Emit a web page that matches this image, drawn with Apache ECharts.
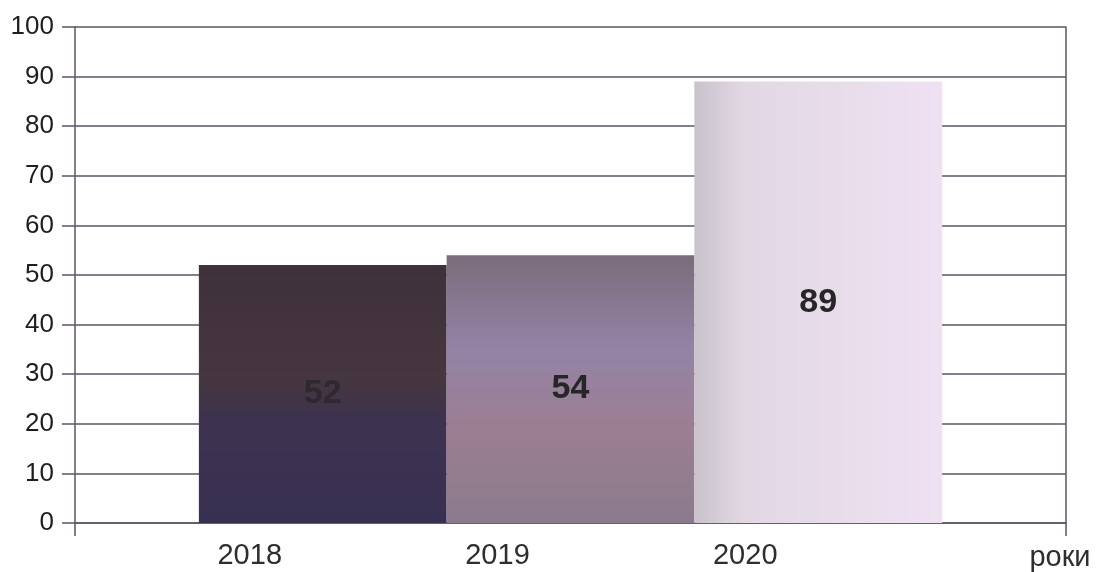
<!DOCTYPE html>
<html>
<head>
<meta charset="utf-8">
<script src="https://cdn.jsdelivr.net/npm/echarts@6/dist/echarts.min.js"></script>
<style>
  html, body { margin: 0; padding: 0; background: #ffffff; }
  #chart { width: 1097px; height: 572px; }
</style>
</head>
<body>
<div id="chart"></div>
<script>
// ---- data ----
const years = ['2018', '2019', '2020'];
const values = [52, 54, 89];
const yTicks = [0, 10, 20, 30, 40, 50, 60, 70, 80, 90, 100];
const axisName = 'роки';

// ---- styles (kept separate from data) ----
const barFills = [
  { type: 'linear', x: 0, y: 0, x2: 0, y2: 1, colorStops: [
    { offset: 0, color: '#3f3139' }, { offset: 0.45, color: '#45363f' },
    { offset: 0.6, color: '#3d3350' }, { offset: 1, color: '#383052' } ] },
  { type: 'linear', x: 0, y: 0, x2: 0, y2: 1, colorStops: [
    { offset: 0, color: '#7a6c7a' }, { offset: 0.35, color: '#9483a6' },
    { offset: 0.65, color: '#9c7e92' }, { offset: 1, color: '#8a7b8c' } ] },
  { type: 'linear', x: 0, y: 0, x2: 1, y2: 0, colorStops: [
    { offset: 0, color: '#c8c2cb' }, { offset: 0.2, color: '#e2d8e4' },
    { offset: 1, color: '#efe1f2' } ] }
];
const labelColors = ['#2e2830', '#262626', '#262626'];

const categories = [''].concat(years).concat(['']);
const barData = [null].concat(values.map((v, i) => ({
  value: v, itemStyle: { color: barFills[i] }, label: { color: labelColors[i] }
}))).concat([null]);

const chart = echarts.init(document.getElementById('chart'));
const lineColor = '#5e5464';
const font = 'Liberation Sans, Arial, sans-serif';

chart.setOption({
  animation: false,
  backgroundColor: '#ffffff',
  grid: { left: 75, right: 31, top: 27, bottom: 49, containLabel: false },
  xAxis: {
    type: 'category',
    data: categories,
    boundaryGap: false,
    name: axisName,
    nameLocation: 'end',
    nameGap: -6,
    nameTextStyle: {
      fontFamily: font, fontSize: 29, color: '#2e2e2e',
      align: 'center', verticalAlign: 'top', padding: [20, 0, 0, 0]
    },
    axisLine: { show: true, lineStyle: { color: lineColor, width: 1.5 } },
    axisTick: {
      show: true, length: 13,
      interval: (idx) => idx === 0 || idx === categories.length - 1,
      lineStyle: { color: lineColor, width: 1.5 }
    },
    axisLabel: {
      fontFamily: font, fontSize: 29, color: '#2e2e2e', margin: 18,
      padding: [0, 146, 0, 0], interval: 0
    },
    splitLine: { show: false }
  },
  yAxis: [{
    type: 'value',
    min: yTicks[0], max: yTicks[yTicks.length - 1], interval: yTicks[1] - yTicks[0],
    axisLine: { show: true, lineStyle: { color: lineColor, width: 1.5 } },
    axisTick: { show: true, length: 13, inside: false, lineStyle: { color: lineColor, width: 1.5 } },
    axisLabel: { fontFamily: font, fontSize: 26, color: '#1e1e1e', margin: 21 },
    splitLine: { show: true, lineStyle: { color: lineColor, width: 1.5 } }
  }, {
    type: 'value', position: 'right',
    min: yTicks[0], max: yTicks[yTicks.length - 1], interval: yTicks[1] - yTicks[0],
    axisLine: { show: true, lineStyle: { color: lineColor, width: 1.5 } },
    axisTick: { show: false }, axisLabel: { show: false }, splitLine: { show: false }
  }],
  series: [{
    type: 'bar',
    data: barData,
    barWidth: '100%',
    label: {
      show: true, position: 'inside',
      fontFamily: font, fontSize: 34, fontWeight: 'bold', color: '#262626'
    }
  }]
});
</script>
</body>
</html>
